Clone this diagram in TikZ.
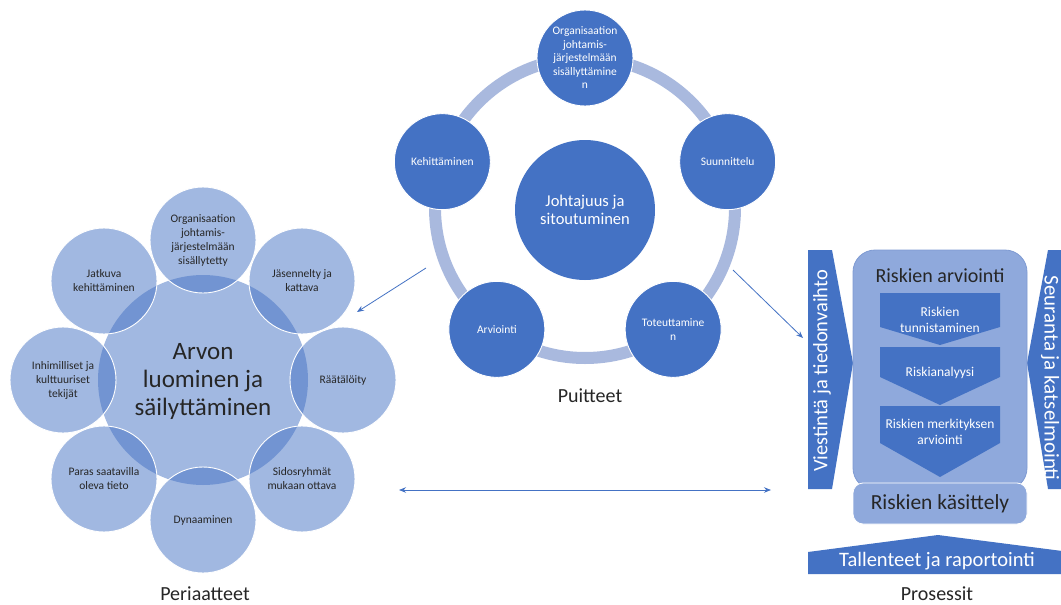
\documentclass[tikz,border=0pt]{standalone}
\usepackage{fontspec}
\setmainfont{Carlito}
\usetikzlibrary{arrows.meta,calc}

\definecolor{accent}{HTML}{4472C4}
\definecolor{ringblue}{HTML}{A9B9DE}
\definecolor{panel}{HTML}{8FA9DC}
\definecolor{panelrim}{HTML}{7E9AD2}
\definecolor{ink}{HTML}{262626}

\tikzset{
  every node/.style={inner sep=0pt, align=center},
  core/.style={circle, minimum size=#1, fill=accent, fill opacity=0.5, text opacity=1, text=ink},
  petal/.style={circle, minimum size=106pt, fill=accent, fill opacity=0.5, text opacity=1,
                draw=white, line width=0.9pt, text=ink, font=\fontsize{11.5}{14}\selectfont},
  hub/.style={circle, minimum size=140pt, fill=accent, text=white, font=\fontsize{16.5}{18.5}\selectfont},
  spoke/.style={circle, minimum size=96pt, fill=accent, draw=white, line width=0.9pt, text=white,
                font=\fontsize{11.5}{13.5}\selectfont},
  ring/.style={draw=ringblue, line width=12pt},
  caption/.style={text=ink, font=\fontsize{20}{24}\selectfont},
  band/.style={fill=accent},
  bandtext/.style={text=white, font=\fontsize{20.5}{24}\selectfont},
  stage/.style={fill=accent},
  stagetext/.style={text=white, font=\fontsize{13.5}{16}\selectfont},
  conn/.style={draw=accent, line width=0.8pt, -{Stealth[length=7pt,width=5.5pt]}},
}

\begin{document}
\begin{tikzpicture}[x=1pt,y=-1pt]
\useasboundingbox (0,0) rectangle (1061,605);
\fill[white] (0,0) rectangle (1061,605);

% ---------- Periaatteet: flower of principles ----------
\coordinate (lc) at (203,380);
\node[core=210pt] (arvo) at (lc) {};
\node[petal] (p1) at ($(lc)+(-90:140)$) {Organisaation\\johtamis-\\järjestelmään\\sisällytetty};
\node[petal] (p2) at ($(lc)+(-45:140)$) {Jäsennelty ja\\kattava};
\node[petal] (p3) at ($(lc)+(0:140)$)   {Räätälöity};
\node[petal] (p4) at ($(lc)+(45:140)$)  {Sidosryhmät\\mukaan ottava};
\node[petal] (p5) at ($(lc)+(90:140)$)  {Dynaaminen};
\node[petal] (p6) at ($(lc)+(135:140)$) {Paras saatavilla\\oleva tieto};
\node[petal] (p7) at ($(lc)+(180:140)$) {Inhimilliset ja\\kulttuuriset\\tekijät};
\node[petal] (p8) at ($(lc)+(-135:140)$) {Jatkuva\\kehittäminen};
\node[text=ink, font=\fontsize{25}{28}\selectfont] (arvotxt) at (203,381)
  {Arvon\\luominen ja\\säilyttäminen};
\node[caption] (periaatteet) at (205,594) {Periaatteet};

% ---------- Puitteet: framework cycle ----------
\coordinate (mr) at (585,208);
\draw[ring] (mr) circle[radius=150];
\node[hub] (johto) at (585,210) {Johtajuus ja\\sitoutuminen};
\node[spoke] (s1) at ($(mr)+(-90:150)$) {Organisaation\\johtamis-\\järjestelmään\\sisällyttämine\\n};
\node[spoke] (s2) at ($(mr)+(-18:150)$) {Suunnittelu};
\node[spoke] (s3) at ($(mr)+(54:150)$)  {Toteuttamine\\n};
\node[spoke] (s4) at ($(mr)+(126:150)$) {Arviointi};
\node[spoke] (s5) at ($(mr)+(198:150)$) {Kehittäminen};
\node[caption] (puitteet) at (590,396) {Puitteet};

% ---------- Prosessit: risk management process ----------
\begin{scope}
\clip (0,0) rectangle (1061,605);
% side bands
\path[band] (808,250) -- (832,250) -- (853,363) -- (832,489) -- (808,489) -- cycle;
\node[bandtext, rotate=90] (viestinta) at (822,371) {Viestintä ja tiedonvaihto};
\path[band] (1048,250) -- (1080,250) -- (1080,489) -- (1048,489) -- (1027,363) -- cycle;
\node[bandtext, rotate=-90, font=\fontsize{21}{24}\selectfont] (seuranta) at (1050,378) {Seuranta ja katselmointi};
% bottom band
\path[band] (808,552) -- (938,535) -- (1070,552) -- (1070,574) -- (808,574) -- cycle;
\node[bandtext] (tallenteet) at (937,561) {Tallenteet ja raportointi};
\end{scope}

% assessment panel
\draw[fill=panel, draw=panelrim, line width=0.8pt, rounded corners=22pt] (853,250) rectangle (1027,490);
\node[text=ink, font=\fontsize{20}{24}\selectfont] (arviointi) at (940,276) {Riskien arviointi};
\path[stage] (880,293) -- (1000,293) -- (1000,327) -- (940,345) -- (880,327) -- cycle;
\node[stagetext] (tunnistus) at (940,320) {Riskien\\tunnistaminen};
\path[stage] (880,347) -- (1000,347) -- (1000,377) -- (940,405) -- (880,377) -- cycle;
\node[stagetext] (analyysi) at (940,373) {Riskianalyysi};
\path[stage] (880,406) -- (1000,406) -- (1000,443) -- (940,477) -- (880,443) -- cycle;
\node[stagetext] (merkitys) at (940,432) {Riskien merkityksen\\arviointi};
% treatment box
\draw[fill=panel, draw=white, line width=0.8pt, rounded corners=10pt] (853,483) rectangle (1027,524);
\node[text=ink, font=\fontsize{21.5}{24}\selectfont] (kasittely) at (940,504) {Riskien käsittely};
\node[caption] (prosessit) at (937,594) {Prosessit};

% ---------- connectors ----------
\coordinate (a1s) at (426,268);
\coordinate (a1e) at (357,312);
\draw[conn] (a1s) -- (a1e);
\coordinate (a2s) at (733,270);
\coordinate (a2e) at (803,338);
\draw[conn] (a2s) -- (a2e);
\coordinate (a3l) at (399,490);
\coordinate (a3r) at (771,490);
\draw[conn, {Stealth[length=7pt,width=5.5pt]}-{Stealth[length=7pt,width=5.5pt]}] (a3l) -- (a3r);
\end{tikzpicture}
\end{document}
